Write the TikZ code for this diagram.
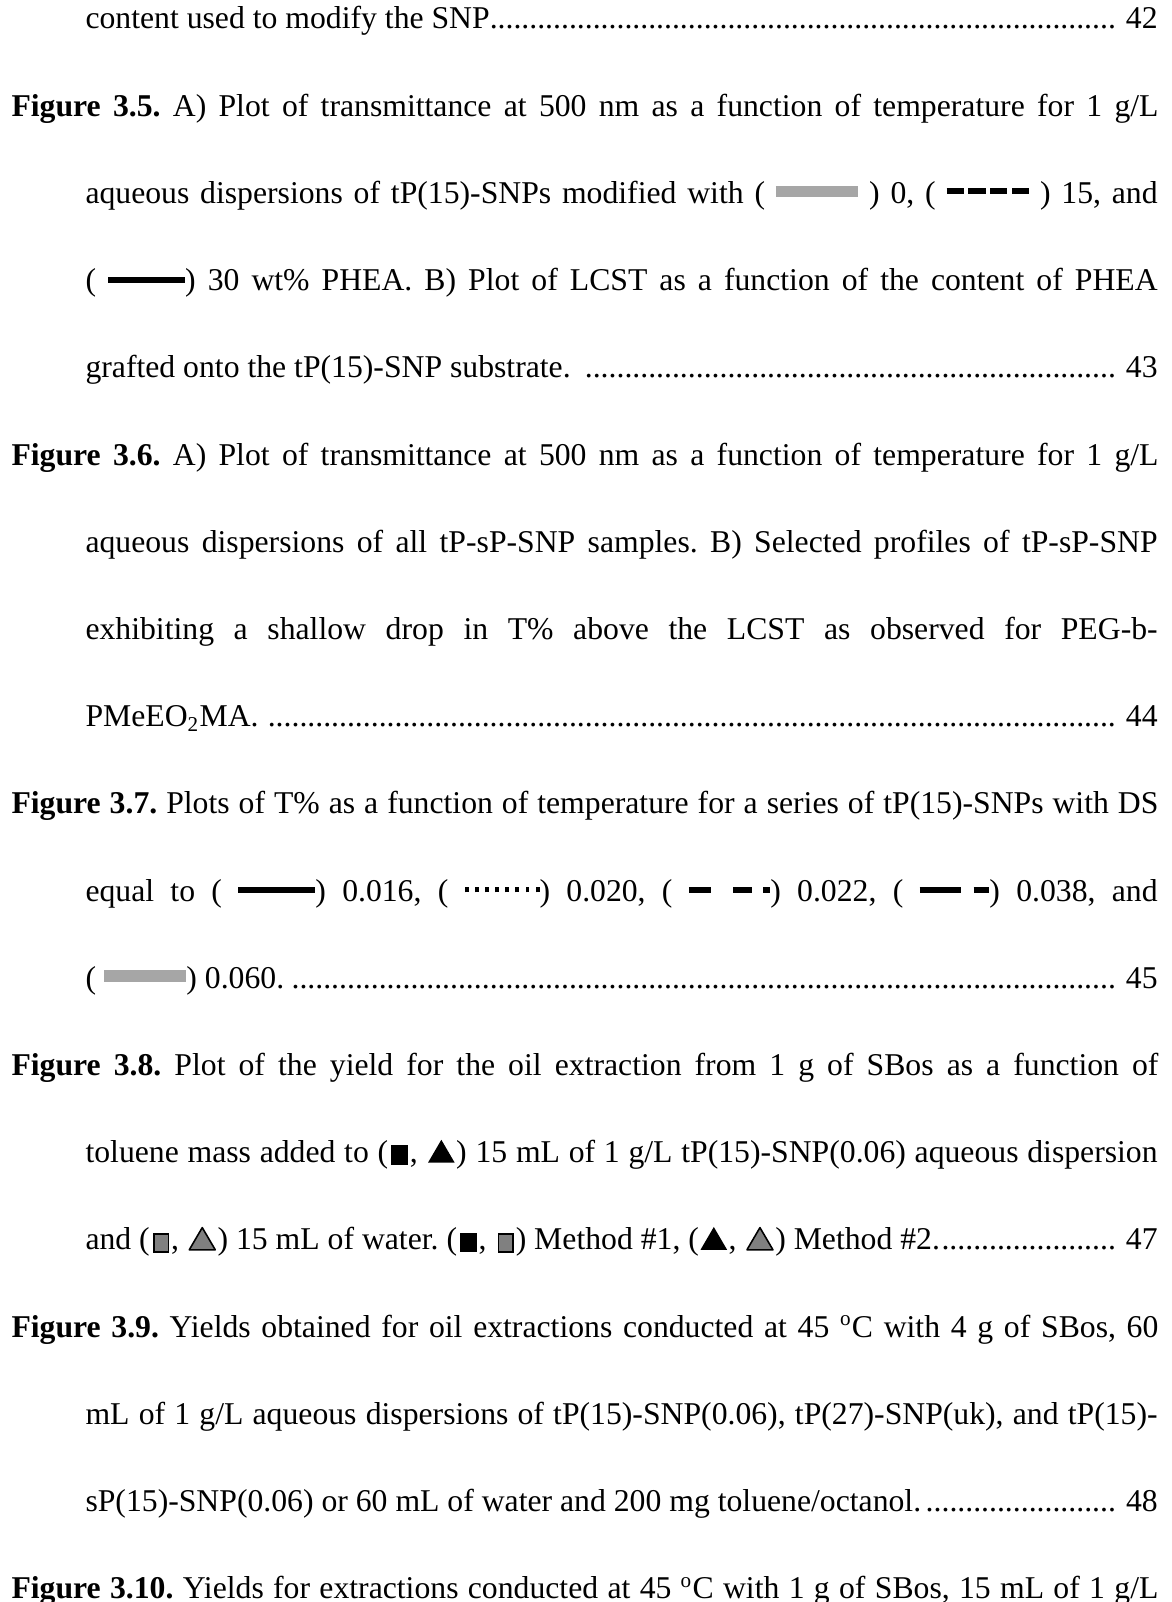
\documentclass[tikz,border=0pt]{standalone}
\usepackage{fontspec}
\setmainfont{Liberation Serif}

\colorlet{barGray} {black!35}
\colorlet{markGray}{black!50}

\newcommand{\fullln}[1]{\makebox[434.1pt][s]{#1}}
\newcommand{\indln}[1]{\makebox[405.8pt][s]{#1}}
\newcommand{\dotlead}{\leaders\hbox{.}\hfill}

% line samples
\newcommand{\lnGray}{\textcolor{barGray}{\rule[0.2em]{2.6em}{0.36em}}}
\newcommand{\lnBlack}{\rule[0.25em]{2.43em}{0.19em}}
\newcommand{\dsh}[1]{\rule[0.3em]{#1}{0.17em}}
\newcommand{\lnDash}{\dsh{0.54em}\hspace{0.15em}\dsh{0.54em}\hspace{0.15em}\dsh{0.54em}\hspace{0.15em}\dsh{0.54em}}
\newcommand{\dt}{\rule[0.27em]{0.12em}{0.16em}}
\newcommand{\lnDot}{\dt\hspace{0.2em}\dt\hspace{0.2em}\dt\hspace{0.2em}\dt\hspace{0.2em}\dt\hspace{0.2em}\dt\hspace{0.2em}\dt\hspace{0.2em}\dt}
\newcommand{\lnDashB}{\rule[0.25em]{0.7em}{0.19em}\hspace{0.7em}\rule[0.25em]{0.6em}{0.19em}\hspace{0.35em}\rule[0.25em]{0.22em}{0.19em}}
\newcommand{\lnLong}{\rule[0.25em]{1.3em}{0.19em}\hspace{0.4em}\rule[0.25em]{0.5em}{0.19em}}

% markers
\newcommand{\sqBlack}{\hspace{0.1em}\tikz[baseline=0pt]\fill (0,-0.08em) rectangle (0.52em,0.54em);\hspace{0.06em}}
\newcommand{\sqGray}{\hspace{0.1em}\tikz[baseline=0pt]\draw[fill=markGray, line width=0.6pt] (0,-0.06em) rectangle (0.46em,0.5em);\hspace{0.06em}}
\newcommand{\triBlack}{\hspace{0.05em}\tikz[baseline=0pt]\fill (0,0) -- (0.84em,0) -- (0.42em,0.72em) -- cycle;\hspace{0.05em}}
\newcommand{\triGray}{\hspace{0.05em}\tikz[baseline=0pt]\draw[fill=markGray, line width=0.6pt, line join=round] (0,0) -- (0.82em,0) -- (0.41em,0.7em) -- cycle;\hspace{0.05em}}

\begin{document}
\begin{tikzpicture}[x=0.3785pt, y=-0.3785pt,
    txt/.style={anchor=base west, inner sep=0pt, font=\fontsize{12pt}{14pt}\selectfont\frenchspacing}]
  \fill[white] (0,0) rectangle (1171,1602);
  \useasboundingbox (0,0) rectangle (1171,1602);

  \node[txt] (cont)  at (85,29)    {\indln{content used to modify the SNP\dotlead\ 42}};
  % Figure 3.5
  \node[txt] (f35a)  at (11,116.2) {\fullln{\textbf{Figure 3.5.} A) Plot of transmittance at 500 nm as a function of temperature for 1 g/L}};
  \node[txt] (f35b)  at (85,203.4) {\indln{aqueous dispersions of tP(15)-SNPs modified with ( \lnGray\ ) 0, ( \lnDash\ ) 15, and}};
  \node[txt] (f35c)  at (85,290.6) {\indln{( \lnBlack) 30 wt\% PHEA. B) Plot of LCST as a function of the content of PHEA}};
  \node[txt] (f35d)  at (85,377.8) {\indln{grafted onto the tP(15)-SNP substrate. \dotlead\ 43}};
  % Figure 3.6
  \node[txt] (f36a)  at (11,465)   {\fullln{\textbf{Figure 3.6.} A) Plot of transmittance at 500 nm as a function of temperature for 1 g/L}};
  \node[txt] (f36b)  at (85,552.2) {\indln{aqueous dispersions of all tP-sP-SNP samples. B) Selected profiles of tP-sP-SNP}};
  \node[txt] (f36c)  at (85,639.4) {\indln{exhibiting a shallow drop in T\% above the LCST as observed for PEG-b-}};
  \node[txt] (f36d)  at (85,726.6) {\indln{PMeEO\textsubscript{2}MA. \dotlead\ 44}};
  % Figure 3.7
  \node[txt] (f37a)  at (11,813.8) {\fullln{\textbf{Figure 3.7.} Plots of T\% as a function of temperature for a series of tP(15)-SNPs with DS}};
  \node[txt] (f37b)  at (85,901)   {\indln{equal to ( \lnBlack) 0.016, ( \lnDot) 0.020, ( \lnDashB) 0.022, ( \lnLong) 0.038, and}};
  \node[txt] (f37c)  at (85,988.2) {\indln{( \lnGray) 0.060.\dotlead\ 45}};
  % Figure 3.8
  \node[txt] (f38a)  at (11,1075.4) {\fullln{\textbf{Figure 3.8.} Plot of the yield for the oil extraction from 1 g of SBos as a function of}};
  \node[txt] (f38b)  at (85,1162.6) {\indln{toluene mass added to (\sqBlack, \triBlack) 15 mL of 1 g/L tP(15)-SNP(0.06) aqueous dispersion}};
  \node[txt] (f38c)  at (85,1249.8) {\indln{and (\sqGray, \triGray) 15 mL of water. (\sqBlack, \sqGray) Method \#1, (\triBlack, \triGray) Method \#2.\dotlead\ 47}};
  % Figure 3.9
  \node[txt] (f39a)  at (11,1337)   {\fullln{\textbf{Figure 3.9.} Yields obtained for oil extractions conducted at 45 \textsuperscript{o}C with 4 g of SBos, 60}};
  \node[txt] (f39b)  at (85,1424.2) {\indln{mL of 1 g/L aqueous dispersions of tP(15)-SNP(0.06), tP(27)-SNP(uk), and tP(15)-}};
  \node[txt] (f39c)  at (85,1511.4) {\indln{sP(15)-SNP(0.06) or 60 mL of water and 200 mg toluene/octanol.\dotlead\ 48}};
  % Figure 3.10
  \node[txt] (f310a) at (11,1598.6) {\fullln{\textbf{Figure 3.10.} Yields for extractions conducted at 45 \textsuperscript{o}C with 1 g of SBos, 15 mL of 1 g/L}};
\end{tikzpicture}
\end{document}
